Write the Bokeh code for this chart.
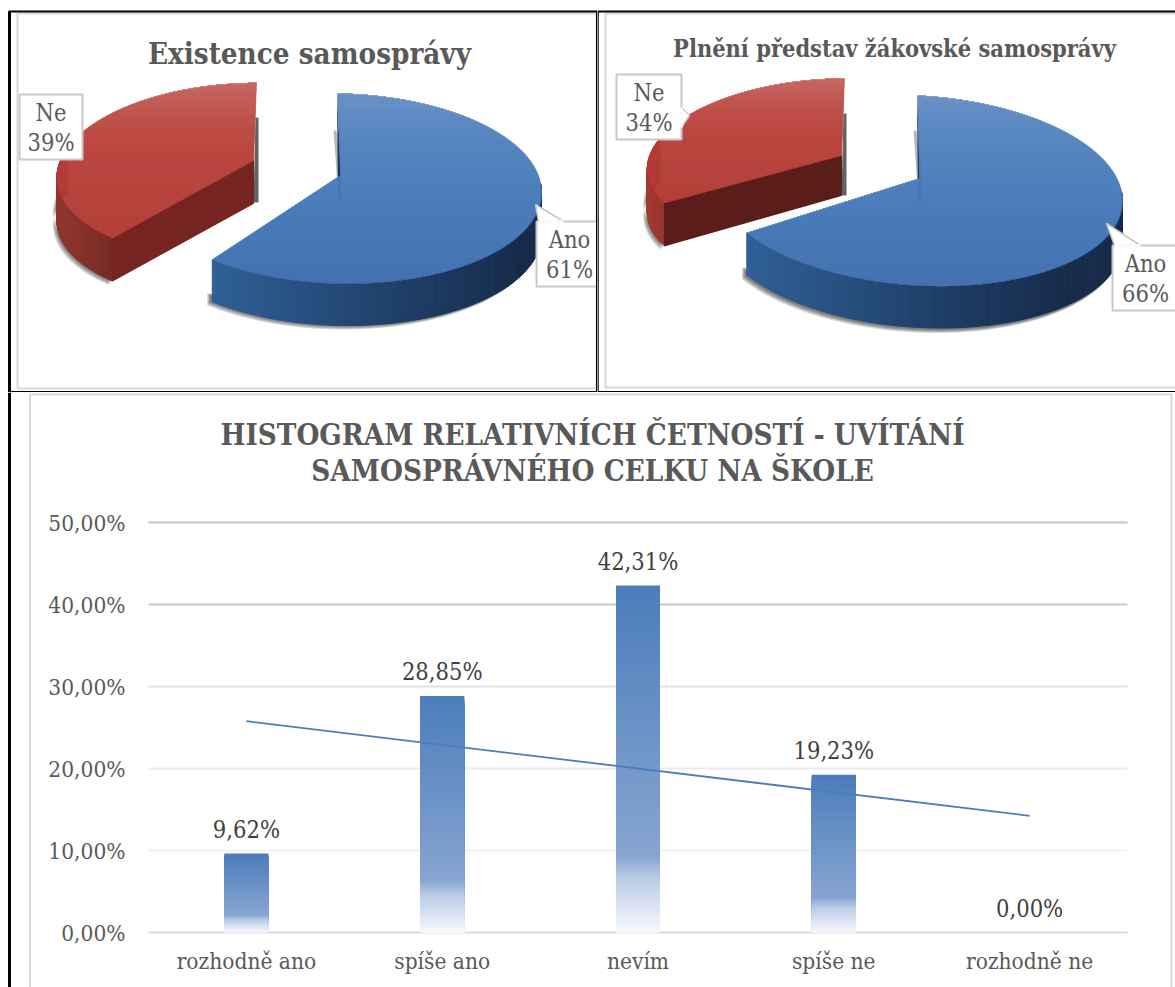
import numpy as np
from bokeh.plotting import figure
from bokeh.layouts import column, row
from bokeh.models import Range1d, FixedTicker
from bokeh.core.properties import value
from bokeh.embed import file_html
from bokeh.resources import INLINE

# ---------- data ----------
pie1_title = "Existence samosprávy"
pie2_title = "Plnění představ žákovské samosprávy"
pie_names = ["Ano", "Ne"]
pie1_shares = [61, 39]
pie2_shares = [66, 34]

bar_title_lines = ["HISTOGRAM RELATIVNÍCH ČETNOSTÍ - UVÍTÁNÍ", "SAMOSPRÁVNÉHO CELKU NA ŠKOLE"]
bar_categories = ["rozhodně ano", "spíše ano", "nevím", "spíše ne", "rozhodně ne"]
bar_values = [9.62, 28.85, 42.31, 19.23, 0.0]
bar_labels = ["9,62%", "28,85%", "42,31%", "19,23%", "0,00%"]
trend_values = [25.77, 14.23]
y_ticks = [0, 10, 20, 30, 40, 50]
y_tick_labels = ["0,00%", "10,00%", "20,00%", "30,00%", "40,00%", "50,00%"]

# ---------- style ----------
FONT = "DejaVu Serif Condensed"
TXT = "#595959"
BLACK = "#000000"
EDGE = "#d9d9d9"
BLUE_TOP = [(0.0, (100, 140, 195)), (0.2, (82, 130, 190)), (0.55, (68, 120, 185)), (1.0, (60, 108, 172))]
RED_TOP = [(0.0, (196, 98, 93)), (0.25, (188, 72, 66)), (0.45, (184, 62, 56)), (1.0, (176, 56, 50))]
BLUE_WALL = [(0.0, (48, 96, 150)), (0.55, (32, 66, 108)), (1.0, (24, 44, 76))]
BAR_GRAD = [(0.0, (76, 125, 187)), (0.78, (135, 165, 209)), (0.84, (185, 203, 229)), (1.0, (246, 249, 252))]
SHADOW = [(-4, 4), (-3, 3), (-2, 2), (-1, 1)]


def hexc(c):
    return "#%02x%02x%02x" % tuple(int(round(v)) for v in c)


def grad(stops, t):
    t = min(max(t, 0.0), 1.0)
    for (a, ca), (b, cb) in zip(stops, stops[1:]):
        if t <= b:
            f = (t - a) / (b - a)
            return hexc([ca[i] + (cb[i] - ca[i]) * f for i in range(3)])
    return hexc(stops[-1][1])


def rim(g, deg):
    th = np.radians(np.asarray(deg, dtype=float))
    x = g["cx"] + g["a"] * np.sin(th) + g["b"] * np.cos(th)
    y = g["cy"] - g["c"] * np.cos(th) + g["d"] * np.sin(th)
    return x, y


def scan_fill(p, xs, ys, stops):
    xs = np.asarray(xs)
    ys = np.asarray(ys)
    y0, y1 = ys.min(), ys.max()
    L, R, T, B, C = [], [], [], [], []
    for yy in np.arange(np.floor(y0), np.ceil(y1) + 1, 1.0):
        yc = yy + 0.5
        x2 = np.roll(xs, -1)
        y2 = np.roll(ys, -1)
        hit = ((ys <= yc) & (y2 > yc)) | ((y2 <= yc) & (ys > yc))
        cross = np.sort(xs[hit] + (yc - ys[hit]) * (x2[hit] - xs[hit]) / (y2[hit] - ys[hit]))
        col = grad(stops, (yc - y0) / (y1 - y0))
        for i in range(0, len(cross) - 1, 2):
            L.append(cross[i]); R.append(cross[i + 1]); T.append(yy); B.append(yy + 1.0); C.append(col)
    p.quad(left=L, right=R, top=T, bottom=B, fill_color=C, line_color=C, line_width=0.6)


def wall(p, g, d0, d1, depth, stops, x0, x1, step=0.75):
    ang = np.arange(d0, d1 + step, step)
    ang[-1] = d1
    xs, ys, cs = [], [], []
    rx, ry = rim(g, ang)
    for i in range(len(ang) - 1):
        xs.append([rx[i], rx[i + 1], rx[i + 1], rx[i]])
        ys.append([ry[i], ry[i + 1], ry[i + 1] + depth, ry[i] + depth])
        cs.append(grad(stops, ((rx[i] + rx[i + 1]) / 2 - x0) / (x1 - x0)))
    p.patches(xs, ys, fill_color=cs, line_color=cs, line_width=1)


def shadow_curve(p, g, d0, d1, depth, offsets):
    ang = np.arange(d0, d1 + 2, 2.0)
    rx, ry = rim(g, ang)
    for dx_, dy_ in offsets:
        xs = list(rx + dx_) + list(rx[::-1] + dx_)
        ys = list(ry + depth + dy_) + list(ry[::-1] + depth - 8)
        p.patch(xs, ys, fill_color="#000000", fill_alpha=0.16, line_color=None)


def callout(p, box, tip=None, base=None, labels=()):
    l, t, r, b = box
    if tip is not None:
        p.patch([base[0][0], tip[0], base[1][0]], [base[0][1], tip[1], base[1][1]],
                fill_color="#ffffff", line_color="#c8c8c8", line_width=1.5)
    p.quad(left=[l], right=[r], top=[t], bottom=[b], fill_color="#ffffff", line_color="#c8c8c8", line_width=2)
    if tip is not None:
        p.segment([base[0][0]], [base[0][1]], [base[1][0]], [base[1][1]], line_color="#ffffff", line_width=2.5)
    cx = (l + min(r, l + 66)) / 2
    p.text([cx, cx], [t + 18, t + 48], text=list(labels), text_font=value(FONT), text_font_size="23.5px",
           text_color=TXT, text_align="center", text_baseline="middle")


def pie_fig(width, xr, card):
    p = figure(width=width, height=392, x_range=Range1d(*xr), y_range=Range1d(392, 0),
               toolbar_location=None, output_backend="svg", min_border=0,
               outline_line_color=None, x_axis_location=None, y_axis_location=None)
    p.grid.visible = False
    p.quad(left=[card[0]], right=[card[2]], top=[card[1]], bottom=[card[3]],
           fill_color="#ffffff", line_color=EDGE, line_width=2)
    return p


def pie_title(p, title, xy, size):
    p.text([xy[0]], [xy[1]], text=[title], text_font=value(FONT), text_font_style="bold",
           text_font_size=size, text_color=TXT, text_align="center", text_baseline="middle")


def draw_slice(p, g, apex, start, end, top_stops):
    ang = np.arange(start, end + 1.5, 1.5)
    ang[-1] = end
    rx, ry = rim(g, ang)
    scan_fill(p, [apex[0]] + list(rx), [apex[1]] + list(ry), top_stops)


# ---------- pie 1 ----------
p1 = pie_fig(597, (0, 597), (17, 13, 596, 388))
pie_title(p1, pie1_title, (309, 53), "29.3px")

deg1 = pie1_shares[0] / sum(pie1_shares) * 360
g_red = dict(cx=241, cy=170, a=184, b=15, c=87.6, d=0)
apex_red = (253, 160)
D = 43
shadow_curve(p1, g_red, deg1, 285, D, SHADOW)
wall(p1, g_red, deg1, 285, D, [(0.0, (145, 55, 48)), (1.0, (120, 42, 36))], 56, 112)
rx, ry = rim(g_red, [deg1])
p1.patch([rx[0], apex_red[0], apex_red[0], rx[0]], [ry[0], apex_red[1], apex_red[1] + D, ry[0] + D],
         fill_color="#762422", line_color="#762422")
p1.patch([255, 258, 258, 253], [117, 117, 202, 202], fill_color="#3c3c3c", line_color=None, fill_alpha=0.8)
draw_slice(p1, g_red, apex_red, deg1, 360, RED_TOP)

g_blue = dict(cx=339, cy=188, a=202, b=-2, c=95, d=3)
apex_blue = (340, 175)
shadow_curve(p1, g_blue, 100, deg1, D - 1, SHADOW)
wall(p1, g_blue, 85, deg1, D - 1, BLUE_WALL, 212, 520)
p1.patch([333, 336, 341, 341, 338], [130, 130, 175, 198, 198], fill_color="#888888", line_color=None, fill_alpha=0.6)
p1.patch([336.5, 340.5, 340.5, 337.5], [93, 175, 198, 198], fill_color="#1c3554", line_color=None)
draw_slice(p1, g_blue, apex_blue, 0, deg1, BLUE_TOP)

callout(p1, (19, 94, 82, 159), labels=(pie_names[1], f"{pie1_shares[1]}%"))
callout(p1, (536, 221, 606, 286), tip=(535, 204), base=((538, 221), (563, 221)),
        labels=(pie_names[0], f"{pie1_shares[0]}%"))

p1.segment([8, 596.5], [11, 11], [597, 596.5], [11, 392], line_color=BLACK, line_width=2)
p1.segment([8], [391.5], [597], [391.5], line_color=BLACK, line_width=2)
p1.segment([9], [11], [9], [392], line_color=BLACK, line_width=3)

# ---------- pie 2 ----------
p2 = pie_fig(578, (597, 1175), (605, 13, 1185, 387))
pie_title(p2, pie2_title, (894, 48), "23.4px")

deg2 = pie2_shares[0] / sum(pie2_shares) * 360
g_red2 = dict(cx=823, cy=159, a=175, b=21, c=81, d=0)
apex_red2 = (841, 155)
D2 = 43
shadow_curve(p2, g_red2, deg2, 285, D2, SHADOW)
wall(p2, g_red2, deg2, 285, D2, [(0.0, (160, 58, 50)), (1.0, (150, 52, 44))], 648, 668)
rx, ry = rim(g_red2, [deg2])
p2.patch([rx[0], apex_red2[0], apex_red2[0], rx[0]], [ry[0], apex_red2[1], apex_red2[1] + D2 - 3, ry[0] + D2],
         fill_color="#5a1d1a", line_color="#5a1d1a")
p2.patch([843, 846, 846, 841], [113, 113, 195, 195], fill_color="#3c3c3c", line_color=None, fill_alpha=0.8)
draw_slice(p2, g_red2, apex_red2, deg2, 360, RED_TOP)

g_blue2 = dict(cx=918, cy=190, a=204, b=-1, c=95, d=10)
apex_blue2 = (919, 178)
shadow_curve(p2, g_blue2, 100, deg2, D2, SHADOW)
wall(p2, g_blue2, 85, deg2, D2 - 1, BLUE_WALL, 747, 1060)
p2.patch([913, 916, 921, 921, 918], [130, 130, 178, 201, 201], fill_color="#888888", line_color=None, fill_alpha=0.6)
p2.patch([916.5, 921, 921, 917.5], [100, 178, 201, 201], fill_color="#1c3554", line_color=None)
draw_slice(p2, g_blue2, apex_blue2, 0, deg2, BLUE_TOP)

callout(p2, (616, 74, 681, 139), tip=(689, 115), base=((681, 107), (681, 127)),
        labels=(pie_names[1], f"{pie2_shares[1]}%"))
callout(p2, (1112, 245, 1185, 310), tip=(1106, 223), base=((1114, 245), (1140, 245)),
        labels=(pie_names[0], f"{pie2_shares[0]}%"))

p2.segment([597, 597], [11, 391.5], [1175, 1175], [11, 391.5], line_color=BLACK, line_width=2)
p2.segment([597.5], [11], [597.5], [392], line_color=BLACK, line_width=1.5)

# ---------- bar chart ----------
PX = 979 / 5.0   # pixels per category
PY = 410 / 50.0  # pixels per 1 %


def dx(px):
    return (px - 148) / PX


def dy(py):
    return (932 - py) / PY


p3 = figure(width=1175, height=595, x_range=Range1d(dx(0), dx(1175)), y_range=Range1d(dy(987), dy(392)),
            toolbar_location=None, output_backend="svg", min_border=0, outline_line_color=None)
p3.grid.visible = False

p3.quad(left=[dx(29.5)], right=[dx(1171)], top=[dy(394)], bottom=[dy(1000)],
        fill_color="#ffffff", line_color=EDGE, line_width=2)
p3.segment([dx(9)], [dy(392)], [dx(9)], [dy(987)], line_color=BLACK, line_width=3)

xs_c = [i + 0.5 for i in range(len(bar_categories))]
grid_cols = ["#d9d9d9", "#f2f2f2", "#ececec", "#e2e2e2", "#c9c9c9", "#c4c4c4"]
p3.segment([0] * 6, y_ticks, [5] * 6, y_ticks, line_color=grid_cols, line_width=2)

BAR_W = 44 / PX
L, R, T, B, C = [], [], [], [], []
for xc, v in zip(xs_c, bar_values):
    if v <= 0:
        continue
    n = int(v * PY)
    edges = np.linspace(0, v, n + 1)
    for i in range(n):
        L.append(xc - BAR_W / 2); R.append(xc + BAR_W / 2)
        T.append(v - edges[i]); B.append(0.0)
        C.append(grad(BAR_GRAD, (i + 0.5) / n))
p3.quad(left=L, right=R, top=T, bottom=B, fill_color=C, line_color=None)

p3.line([xs_c[0], xs_c[-1]], trend_values, line_color="#4a7ebb", line_width=1.8)

p3.text(xs_c, bar_values, text=bar_labels, text_font=value(FONT), text_font_size="23.5px",
        text_color="#404040", text_align="center", text_baseline="bottom", y_offset=-10)

p3.text([dx(592)] * 2, [dy(434), dy(470)], text=bar_title_lines, text_font=value(FONT),
        text_font_style="bold", text_font_size="29.3px", text_color=TXT,
        text_align="center", text_baseline="middle")

p3.xaxis.fixed_location = 0
p3.yaxis.fixed_location = 0
p3.xaxis.ticker = FixedTicker(ticks=xs_c)
p3.xaxis.major_label_overrides = dict(zip(xs_c, bar_categories))
p3.yaxis.ticker = FixedTicker(ticks=y_ticks)
p3.yaxis.major_label_overrides = dict(zip(y_ticks, y_tick_labels))
for ax in (p3.xaxis, p3.yaxis):
    ax.axis_line_color = None
    ax.major_tick_line_color = None
    ax.minor_tick_line_color = None
    ax.major_label_text_font = FONT
    ax.major_label_text_font_size = "22.5px"
    ax.major_label_text_color = TXT
p3.xaxis.major_label_standoff = 9
p3.yaxis.major_label_standoff = 17

page = column(row(p1, p2, spacing=0), p3, spacing=0)
open("out.html", "w").write(file_html(page, INLINE))
